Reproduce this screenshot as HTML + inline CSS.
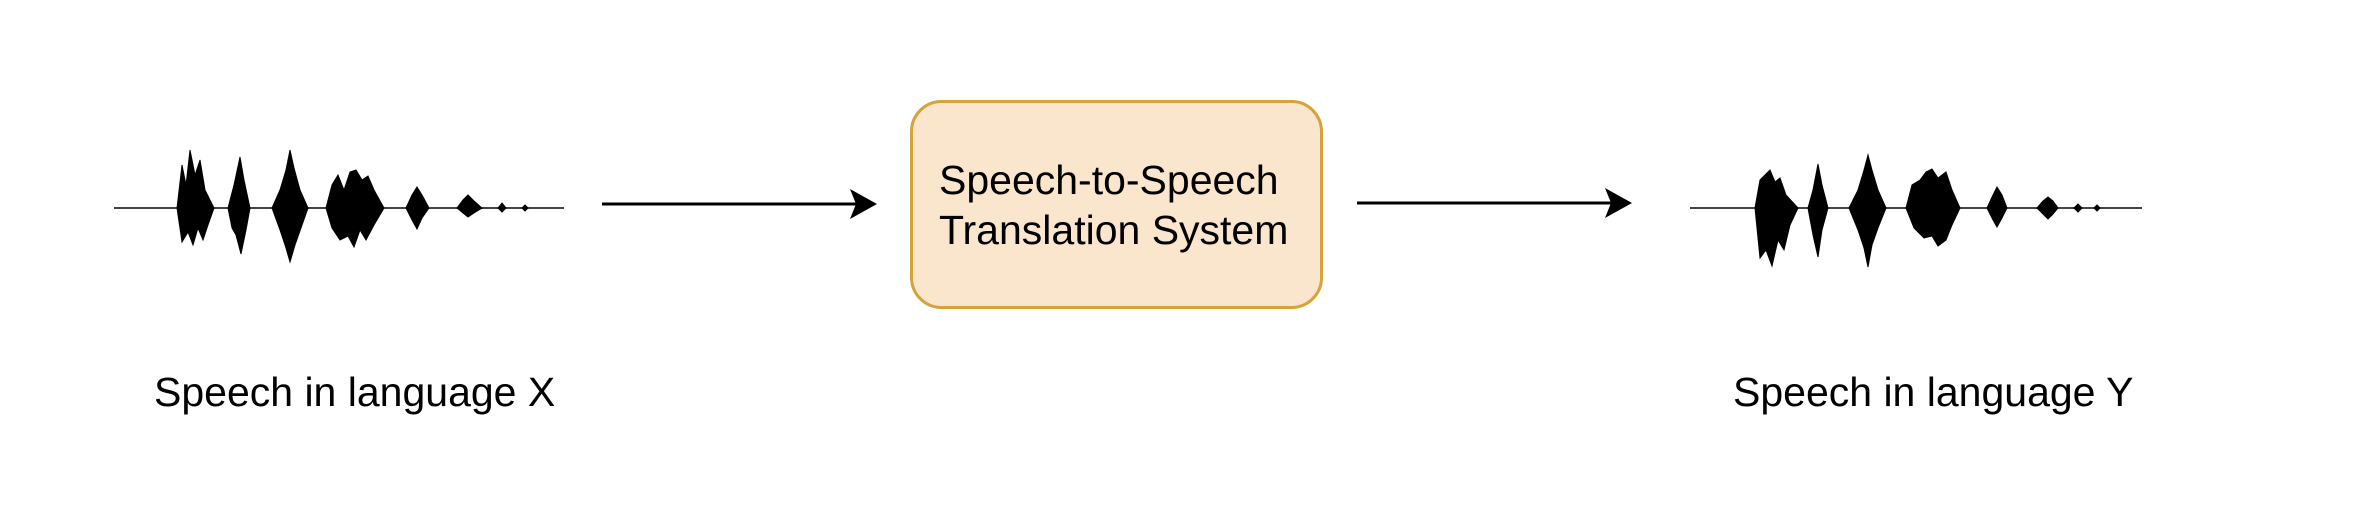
<!DOCTYPE html>
<html><head><meta charset="utf-8"><style>
html,body{margin:0;padding:0;background:#fff;}
body{width:2356px;height:506px;position:relative;overflow:hidden;font-family:"Liberation Sans",Arial,sans-serif;}
.t{position:absolute;font-size:41px;color:#000;white-space:nowrap;line-height:1;}
</style></head><body>
<svg width="2356" height="506" style="position:absolute;left:0;top:0">
<g fill="#000" stroke="#000" stroke-width="1">
<line x1="114" y1="208" x2="564" y2="208" stroke="#444" stroke-width="2"/>
<polygon points="177,208 182,165 186,185 190,150 195,175 200,160 205,190 214,208 208,225 203,240 198,228 193,245 188,232 182,242"/>
<polygon points="228,208 234,185 240,157 244,180 250,208 246,230 241,254 236,235 232,228"/>
<polygon points="272,208 280,190 286,170 290,150 294,168 300,190 308,208 301,228 295,245 290,262 286,248 280,230"/>
<polygon points="326,208 332,185 338,175 344,190 350,172 356,170 362,180 368,176 374,190 384,208 374,225 366,240 360,230 354,247 348,236 340,240 332,228"/>
<polygon points="406,208 412,195 417,187 422,195 429,208 422,218 417,229 412,220"/>
<polygon points="457,208 463,200 468,195 474,201 482,208 474,213 468,217 463,213"/>
<polygon points="498,208 502,203 506,208 502,212"/>
<polygon points="522,208 525,205 528,208 525,211"/>
</g>
<g fill="#000" stroke="#000" stroke-width="1">
<line x1="1690" y1="208" x2="2142" y2="208" stroke="#444" stroke-width="2"/>
<polygon points="1755,208 1760,180 1765,175 1770,170 1775,182 1780,178 1786,195 1798,208 1790,225 1784,250 1778,240 1772,266 1766,250 1760,258"/>
<polygon points="1808,208 1813,190 1818,164 1822,185 1828,208 1822,230 1818,257 1813,235"/>
<polygon points="1849,208 1858,190 1864,170 1868,155 1872,170 1878,190 1886,208 1878,228 1872,245 1868,267 1864,248 1858,230"/>
<polygon points="1906,208 1912,185 1920,180 1926,172 1932,169 1938,178 1946,172 1952,190 1960,208 1952,225 1946,240 1938,246 1932,236 1924,238 1914,228"/>
<polygon points="1987,208 1993,195 1997,187 2002,195 2007,208 2002,218 1997,227 1993,220"/>
<polygon points="2037,208 2043,201 2048,197 2053,201 2058,208 2053,214 2048,219 2043,214"/>
<polygon points="2074,208 2078,204 2082,208 2078,212"/>
<polygon points="2094,208 2097,205 2100,208 2097,211"/>
</g>
<line x1="602" y1="204" x2="860" y2="204" stroke="#000" stroke-width="3"/>
<polygon points="877,204 850,189 856,204 850,219" fill="#000"/>
<line x1="1357" y1="203" x2="1615" y2="203" stroke="#000" stroke-width="3"/>
<polygon points="1632,203 1605,188 1611,203 1605,218" fill="#000"/>
<rect x="911.5" y="101.5" width="410" height="206" rx="30" ry="30" fill="#fae5cd" stroke="#d6a23a" stroke-width="3"/>
</svg>
<div class="t" style="left:939px;top:160px;">Speech-to-Speech</div>
<div class="t" style="left:939px;top:210px;">Translation System</div>
<div class="t" style="left:154px;top:372px;">Speech in language X</div>
<div class="t" style="left:1733px;top:372px;">Speech in language Y</div>
</body></html>
